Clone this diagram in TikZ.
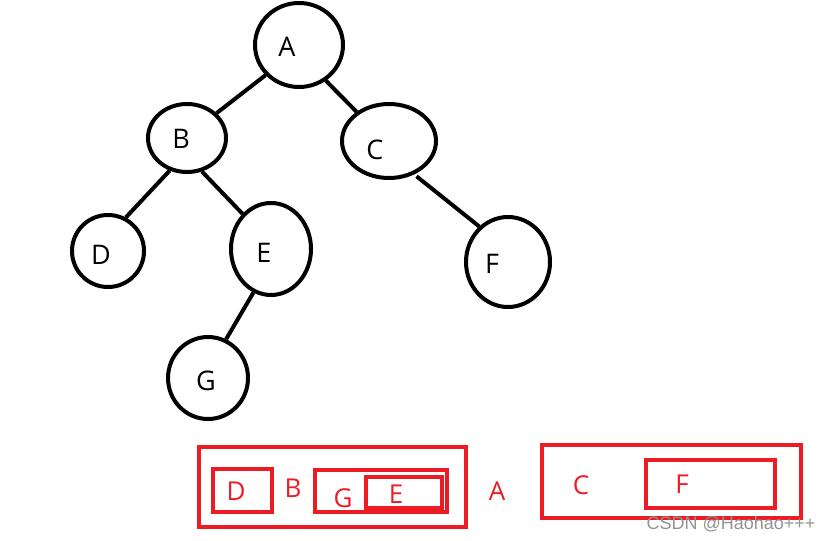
\documentclass[tikz,border=0pt]{standalone}
\usepackage{fontspec}
\setmainfont{Open Sans}
\newfontfamily\wmfont{Liberation Sans}
\usetikzlibrary{shapes.geometric}
\definecolor{paintred}{HTML}{ED1C24}
\tikzset{
  tnode/.style={ellipse, draw=black, line width=4pt, inner sep=0pt,
    minimum width=#1},
  edge/.style={draw=black, line width=4pt},
  lbl/.style={inner sep=0pt, font=\fontsize{27}{30}\selectfont, text=black},
  rlbl/.style={inner sep=0pt, font=\fontsize{26}{30}\selectfont, text=paintred},
  rbox/.style={draw=paintred, line width=4pt},
}
\begin{document}
\begin{tikzpicture}[x=1pt,y=-1pt]
\useasboundingbox (0,0) rectangle (834,540);
% tree nodes
\node[tnode=88pt, minimum height=84pt] (A) at (299,45) {};
\node[tnode=78pt, minimum height=68pt] (B) at (187,138) {};
\node[tnode=94pt, minimum height=74pt] (C) at (389,141) {};
\node[tnode=72pt, minimum height=72pt] (D) at (108,251) {};
\node[tnode=80pt, minimum height=92pt] (E) at (271,249) {};
\node[tnode=84pt, minimum height=90pt] (F) at (508,262) {};
\node[tnode=80pt, minimum height=82pt] (G) at (208,378) {};
% labels
\node[lbl] (tA) at (287,47) {A};
\node[lbl] (tB) at (181,139) {B};
\node[lbl] (tC) at (375,150) {C};
\node[lbl] (tD) at (101,255) {D};
\node[lbl] (tE) at (264,253) {E};
\node[lbl] (tF) at (492,264) {F};
\node[lbl] (tG) at (206,381) {G};
% edges
\draw[edge] (A.222) -- (B.40);
\draw[edge] (A.307) -- (C.138);
\draw[edge] (B.242) -- (D.62);
\draw[edge] (B.294) -- (E.129);
\draw[edge, shorten <=3pt] (C.307) -- (F.129);
\draw[edge] (E.248) -- (G.65);
% red boxes
\node[rbox, minimum width=267pt, minimum height=80pt, inner sep=0pt] (box1) at (332.5,487) {};
\node[rbox, minimum width=59pt, minimum height=43pt, inner sep=0pt] (boxD) at (242.5,490.5) {};
\node[rbox, minimum width=132pt, minimum height=42pt, inner sep=0pt] (boxG) at (381,491) {};
\node[rbox, minimum width=76pt, minimum height=31pt, inner sep=0pt] (boxE) at (404,492.5) {};
\node[rbox, minimum width=259pt, minimum height=73pt, inner sep=0pt] (box2) at (671.5,481.5) {};
\node[rbox, minimum width=129pt, minimum height=48pt, inner sep=0pt] (boxF) at (710.5,484) {};
% red labels
\node[rlbl] (rD) at (236,491) {D};
\node[rlbl] (rB) at (293,488) {B};
\node[rlbl] (rG) at (343,498) {G};
\node[rlbl] (rE) at (396,494) {E};
\node[rlbl] (rA) at (497,491) {A};
\node[rlbl] (rC) at (581,485) {C};
\node[rlbl] (rF) at (682,484) {F};
% watermark
\node[inner sep=0pt, font=\wmfont\fontsize{18}{20}\selectfont, text=gray!85] (wm) at (731,524) {CSDN @Haohao+++};
\end{tikzpicture}
\end{document}
